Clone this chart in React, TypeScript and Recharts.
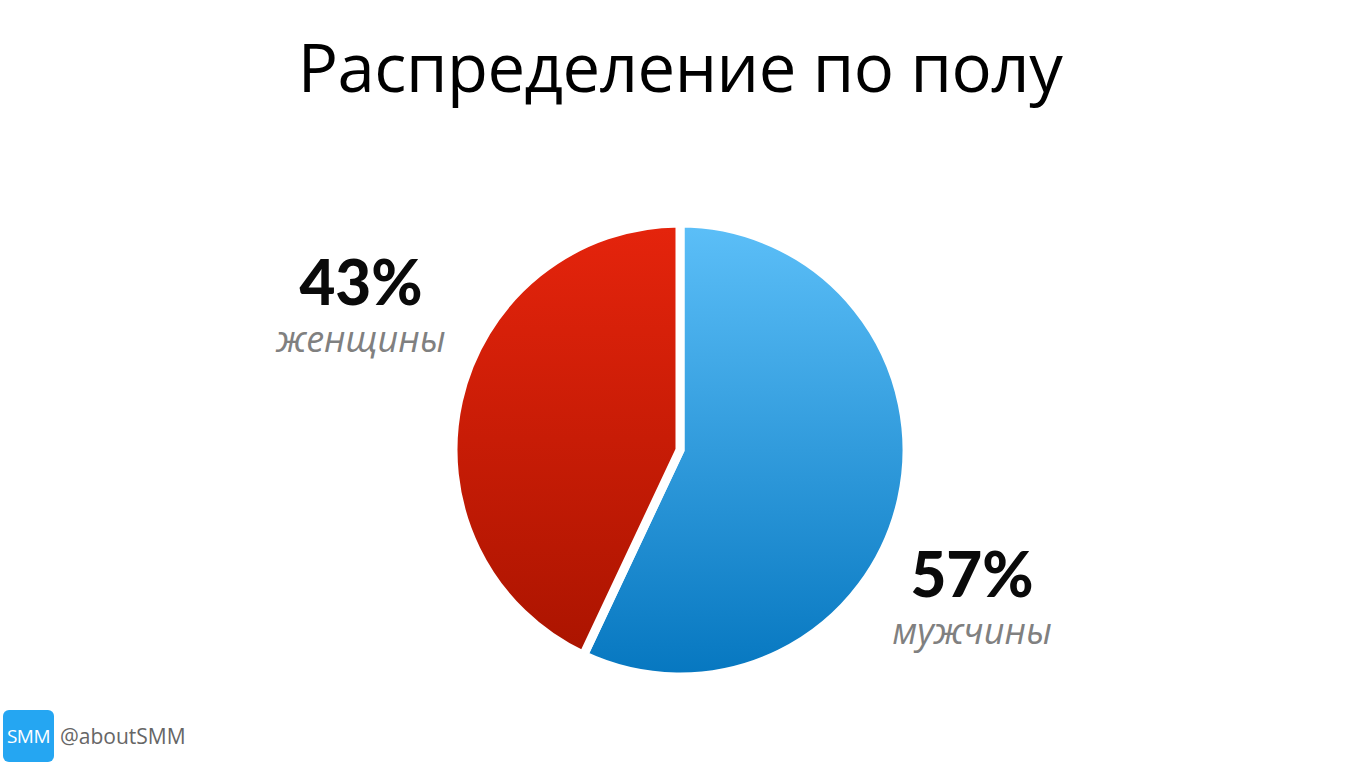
import { PieChart, Pie, Cell } from 'recharts';

const categories = ['мужчины', 'женщины'];
const shares = [57, 43];
const percentLabels = ['57%', '43%'];

const chartData = categories.map((name, i) => ({ name, value: shares[i] }));

// label anchors relative to pie centre, per slice
const labelOffsets = [
  { dx: 292, dy: 147 },
  { dx: -319, dy: -145 },
];

const fills = ['url(#blueGrad)', 'url(#redGrad)'];

function SliceLabel(props: any) {
  const { cx, cy, index } = props;
  const off = labelOffsets[index];
  const x = cx + off.dx;
  const y = cy + off.dy;
  return (
    <g>
      <text
        x={x}
        y={y}
        textAnchor='middle'
        fill='#0a0a0a'
        style={{ fontFamily: 'Lato', fontWeight: 900, fontSize: 62 }}
      >
        {percentLabels[index]}
      </text>
      <text
        x={x}
        y={y + 47}
        textAnchor='middle'
        fill='#808080'
        style={{ fontFamily: 'Open Sans', fontStyle: 'italic', fontWeight: 400, fontSize: 36 }}
      >
        {categories[index]}
      </text>
    </g>
  );
}

export default function App() {
  return (
    <div
      style={{
        position: 'absolute',
        left: 0,
        top: 0,
        width: 1360,
        height: 765,
        background: '#fff',
        overflow: 'hidden',
      }}
    >
      <div
        style={{
          position: 'absolute',
          left: 0,
          top: 20,
          width: 1360,
          textAlign: 'center',
          fontFamily: 'Open Sans',
          fontSize: 67,
          color: '#000',
          letterSpacing: -0.5,
        }}
      >
        Распределение по полу
      </div>
      <PieChart
        width={1360}
        height={765}
        margin={{ top: 0, right: 0, bottom: 0, left: 0 }}
        style={{ position: 'absolute', left: 0, top: 0 }}
      >
        <defs>
          <linearGradient id='blueGrad' x1='0' y1='0' x2='0' y2='1'>
            <stop offset='0%' stopColor='#5cbff8' />
            <stop offset='100%' stopColor='#0677c0' />
          </linearGradient>
          <linearGradient id='redGrad' x1='0' y1='0' x2='0' y2='1'>
            <stop offset='0%' stopColor='#e5240c' />
            <stop offset='100%' stopColor='#ab1400' />
          </linearGradient>
        </defs>
        <Pie
          data={chartData}
          dataKey='value'
          nameKey='name'
          cx={680}
          cy={450}
          outerRadius={227}
          startAngle={90}
          endAngle={-270}
          stroke='#fff'
          strokeWidth={9}
          label={SliceLabel}
          labelLine={false}
          isAnimationActive={false}
        >
          {chartData.map((d, i) => (
            <Cell key={d.name} fill={fills[i]} />
          ))}
        </Pie>
      </PieChart>
      <div
        style={{
          position: 'absolute',
          left: 3,
          top: 710,
          width: 51,
          height: 52,
          borderRadius: 6,
          background: '#25a6f2',
          color: '#fff',
          fontFamily: 'Open Sans',
          fontSize: 19,
          lineHeight: '52px',
          textAlign: 'center',
          letterSpacing: -0.5,
        }}
      >
        SMM
      </div>
      <div
        style={{
          position: 'absolute',
          left: 60,
          top: 722,
          fontFamily: 'Open Sans',
          fontSize: 21,
          color: '#666',
        }}
      >
        @aboutSMM
      </div>
    </div>
  );
}
